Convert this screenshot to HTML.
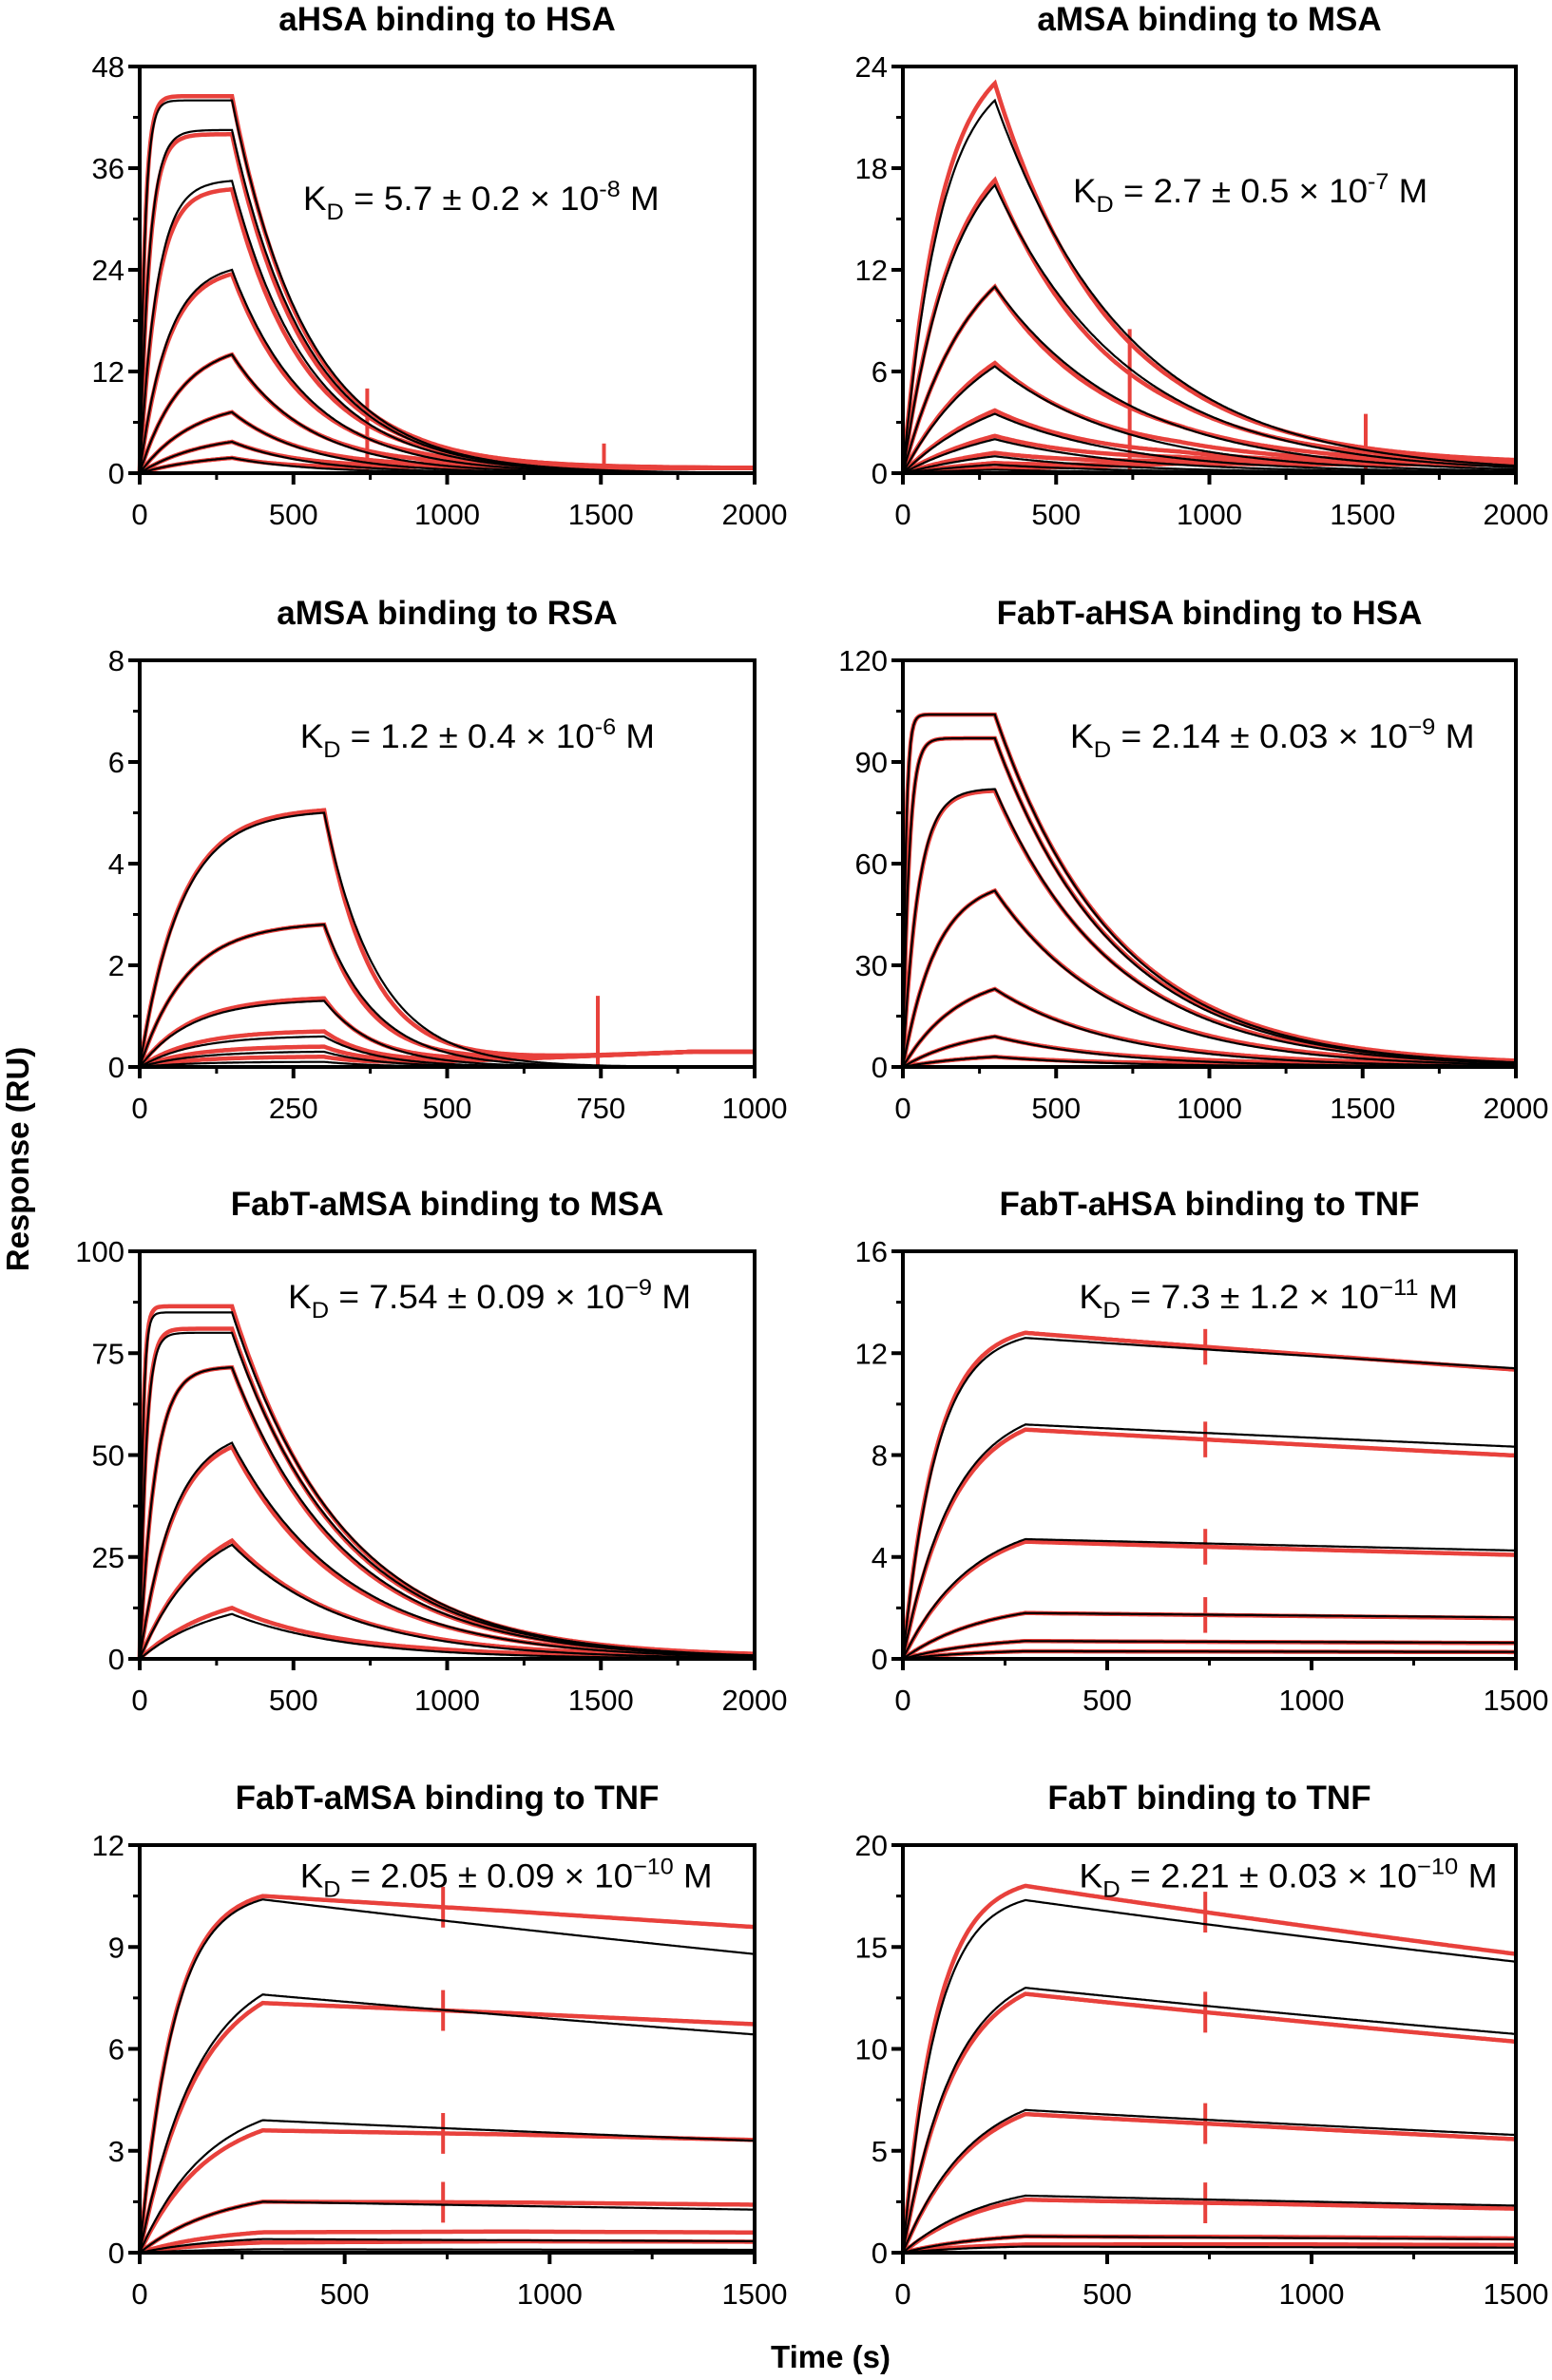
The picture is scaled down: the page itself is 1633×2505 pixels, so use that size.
<!DOCTYPE html>
<html><head><meta charset="utf-8"><style>
html,body{margin:0;padding:0;background:#fff}
svg text{font-family:"Liberation Sans",sans-serif}
</style></head><body>
<svg id="fig" width="1633" height="2500" viewBox="0 0 1633 2500" xmlns="http://www.w3.org/2000/svg">
<text x="0" y="0" transform="translate(30,1220) rotate(-90)" text-anchor="middle" font-size="33" font-weight="bold">Response (RU)</text>
<text x="874" y="2492" text-anchor="middle" font-size="33" font-weight="bold">Time (s)</text>
</svg>
<script>
// ---- data ----
const titles = ["aHSA binding to HSA","aMSA binding to MSA","aMSA binding to RSA","FabT-aHSA binding to HSA","FabT-aMSA binding to MSA","FabT-aHSA binding to TNF","FabT-aMSA binding to TNF","FabT binding to TNF"];
const kdMant = ["5.7 \u00b1 0.2 \u00d7 10","2.7 \u00b1 0.5 \u00d7 10","1.2 \u00b1 0.4 \u00d7 10","2.14 \u00b1 0.03 \u00d7 10","7.54 \u00b1 0.09 \u00d7 10","7.3 \u00b1 1.2 \u00d7 10","2.05 \u00b1 0.09 \u00d7 10","2.21 \u00b1 0.03 \u00d7 10"];
const kdExp = ["-8","-7","-6","\u22129","\u22129","\u221211","\u221210","\u221210"];
const xMax = [2000,2000,1000,2000,2000,1500,1500,1500];
const xTicks = [[0,500,1000,1500,2000],[0,500,1000,1500,2000],[0,250,500,750,1000],[0,500,1000,1500,2000],[0,500,1000,1500,2000],[0,500,1000,1500],[0,500,1000,1500],[0,500,1000,1500]];
const yTicks = [[0,12,24,36,48],[0,6,12,18,24],[0,2,4,6,8],[0,30,60,90,120],[0,25,50,75,100],[0,4,8,12,16],[0,3,6,9,12],[0,5,10,15,20]];
const injEnd = [300,300,300,300,300,300,300,300];
// black fit curves: response at end of injection, observed association rate
const fitPeaks = [[44,40.5,34.5,24,14,7.2,3.7,1.8],[22,17,11,6.3,3.5,2,1,0.5,0.2],[5.0,2.8,1.3,0.6,0.3,0.1],[104,97,82,52,23,9,3],[85,80,71.5,53,28,11],[12.6,9.2,4.7,1.8,0.7,0.3],[10.4,7.6,3.9,1.5,0.4,0.1],[17.3,13,7,2.8,0.8,0.3]];
const fitKobs = [[0.06,0.032,0.018,0.011,0.0075,0.0057,0.0049,0.0044],[0.008,0.006,0.0045,0.0035,0.003,0.0027,0.0025,0.0024,0.0023],[0.015,0.013,0.012,0.0115,0.0115,0.0115],[0.1,0.05,0.02,0.009,0.0055,0.0045,0.004],[0.1,0.05,0.02,0.009,0.005,0.004],[0.012,0.008,0.006,0.005,0.005,0.005],[0.012,0.007,0.006,0.005,0.005,0.005],[0.012,0.008,0.006,0.005,0.005,0.005]];
const fitKoff = [0.004,0.0023,0.0115,0.00255,0.0027,0.000083,0.00014,0.00016];
// red measured curves
const obsPeaks = [[44.5,40,33.5,23.5,14,7.2,3.7,1.8],[23,17.3,11,6.5,3.7,2.2,1.2,0.6,0.3],[5.05,2.8,1.35,0.7,0.4,0.2],[104,97,81.5,52,23,9,3],[86.5,81,71.5,52,29,12.5],[12.8,9.0,4.6,1.8,0.7,0.3],[10.5,7.35,3.6,1.5,0.6,0.3],[18,12.7,6.8,2.6,0.8,0.4]];
const obsKoff = [0.0042,0.0026,0.013,0.00255,0.0028,0.00010,0.00008,0.000174];
const obsBase = [0.6,0.5,0.3,0.5,0.5,0,0.05,0.05];
const spikeT = [[740,1510],[740,1510],[745],[],[],[740],[740],[740]];
const spikeH = [[10,3.5],[8.5,3.5],[1.4],[],[],[0.7],[0.6],[1.0]];
const kdPos = [[200,131],[708,126],[198,486],[706,486],[190,856],[712,856],[198,1238],[712,1238]];
const kdW = [235,234,234,267,266,250,272,276];

// ---- layout ----
const S = 1633/1024;
const colX = [[147,794],[950,1595]];
const rowY = [[70,498],[695,1123],[1317,1746],[1942,2371]];
const svg = document.getElementById('fig');
const NS = "http://www.w3.org/2000/svg";
function mk(tag, attrs, parent){const e=document.createElementNS(NS,tag);for(const k in attrs)e.setAttribute(k,attrs[k]);(parent||svg).appendChild(e);return e;}

function curve(t, peak, kobs, koff, t0){
  if(t<=t0){const req=peak/(1-Math.exp(-kobs*t0));return req*(1-Math.exp(-kobs*t));}
  return peak*Math.exp(-koff*(t-t0));
}

for(let p=0;p<8;p++){
  const [L,R]=colX[p%2], [T,B]=rowY[Math.floor(p/2)];
  const ymax=yTicks[p][yTicks[p].length-1];
  const sx=v=>L+(v/xMax[p])*(R-L);
  const sy=v=>B-(v/ymax)*(B-T);
  const g=mk('g',{});
  
  
  const ti=mk('text',{x:(L+R)/2,y:T-38,'text-anchor':'middle','font-size':35,'font-weight':'bold'},g);
  ti.textContent=titles[p];
  
  
  const t0=injEnd[p];
  const step=xMax[p]/400;
  const redVal=(t,i)=>{
    let v=curve(t,obsPeaks[p][i],fitKobs[p][i]||0.005,obsKoff[p],t0);
    if(t>t0) v+=obsBase[p]*Math.min(1,(t-t0)/600);
    return Math.max(0,v);
  };
  // red curves
  obsPeaks[p].forEach((pk,i)=>{
    let d='';
    for(let t=0;t<=xMax[p]+1e-6;t+=step){
      d+=(d?'L':'M')+sx(t).toFixed(1)+','+sy(redVal(t,i)).toFixed(1);
    }
    const e=mk('path',{d:d,fill:'none',stroke:'#e8413c','stroke-width':4.5},g);
    
    
  });
  spikeT[p].forEach((st,i)=>{
    if(p<3){
      const e=mk('line',{x1:sx(st),x2:sx(st),y1:sy(0),y2:sy(spikeH[p][i]),stroke:'#e8413c','stroke-width':4},g);
      
      
    } else {
      obsPeaks[p].forEach((pk,k)=>{
        if(k>3) return;
        const v=redVal(st,k);
        const e=mk('line',{x1:sx(st),x2:sx(st),y1:sy(Math.max(0,v-spikeH[p][i])),y2:sy(v+spikeH[p][i]),stroke:'#e8413c','stroke-width':4},g);
        
        
      });
    }
  });
  // black fits
  fitPeaks[p].forEach((pk,i)=>{
    let d='';
    for(let t=0;t<=xMax[p]+1e-6;t+=step){
      const v=curve(t,pk,fitKobs[p][i],fitKoff[p],t0);
      d+=(d?'L':'M')+sx(t).toFixed(1)+','+sy(v).toFixed(1);
    }
    const e=mk('path',{d:d,fill:'none',stroke:'#000','stroke-width':2.2},g);
    
    
  });
  // frame
  const fr=mk('rect',{x:L,y:T,width:R-L,height:B-T,fill:'none',stroke:'#000','stroke-width':4},g);
  
  
  // y ticks
  const yt=yTicks[p], ys=yt[1]-yt[0];
  for(let k=0;k<yt.length;k++){
    const y=sy(yt[k]);
    mk('line',{x1:L-12,x2:L,y1:y,y2:y,stroke:'#000','stroke-width':4},g);
    if(k<yt.length-1){const ym=sy(yt[k]+ys/2);mk('line',{x1:L-7,x2:L,y1:ym,y2:ym,stroke:'#000','stroke-width':3},g);}
    const tl=mk('text',{x:L-16,y:y+11,'text-anchor':'end','font-size':31},g);
    tl.textContent=yt[k];
    
    
  }
  const xt=xTicks[p], xs=xt[1]-xt[0];
  for(let k=0;k<xt.length;k++){
    const x=sx(xt[k]);
    mk('line',{x1:x,x2:x,y1:B,y2:B+12,stroke:'#000','stroke-width':4},g);
    if(k<xt.length-1){const xm=sx(xt[k]+xs/2);mk('line',{x1:xm,x2:xm,y1:B,y2:B+7,stroke:'#000','stroke-width':3},g);}
    const tl=mk('text',{x:x,y:B+54,'text-anchor':'middle','font-size':31},g);
    tl.textContent=xt[k];
    
    
  }
  // KD annotation
  const kx=kdPos[p][0]*S, ky=kdPos[p][1]*S+12;
  const kt=mk('text',{x:kx,y:ky,'font-size':35,textLength:kdW[p]*S,lengthAdjust:'spacingAndGlyphs'},g);
  
  
  kt.innerHTML='K<tspan font-size="24" dy="10">D</tspan><tspan dy="-10"> = '+kdMant[p]+'</tspan><tspan font-size="24" dy="-14">'+kdExp[p]+'</tspan><tspan dy="14"> M</tspan>';
}
</script>
</body></html>
